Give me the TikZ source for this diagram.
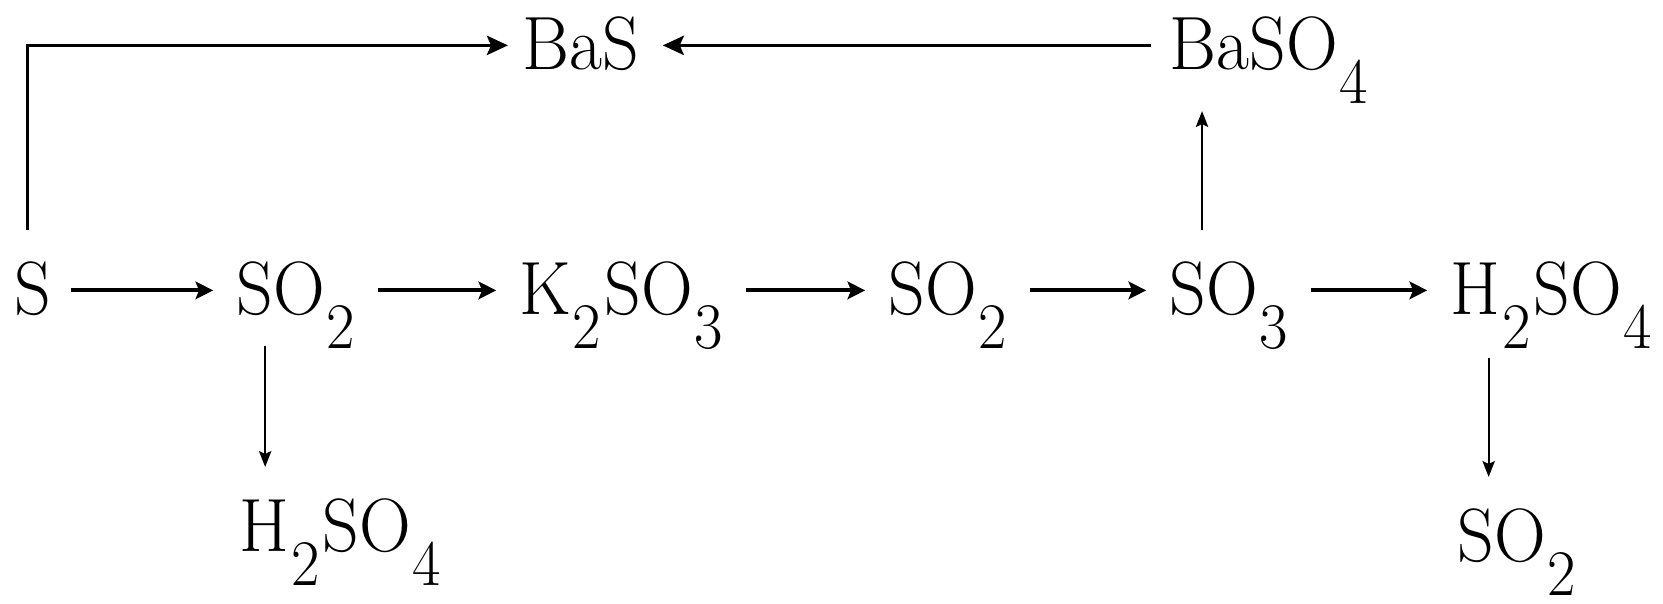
\documentclass[tikz,border=0pt]{standalone}
\usepackage{graphicx}
\usetikzlibrary{arrows.meta}

% formulas: large lowered indices
\newcommand{\chem}[1]{\scalebox{0.95}[1]{#1}}
\newcommand{\chsub}[1]{\kern0.5pt\raisebox{-0.45em}{\fontsize{18.5}{18.5}\selectfont #1}\kern1pt}

\begin{document}
\begin{tikzpicture}[
        x=0.1mm, y=-0.1mm,
        >={Stealth[length=5pt, width=5pt, inset=1pt]},
        chem/.style={inner sep=0pt, anchor=base west, text height=14pt, text depth=0pt,
            font=\fontsize{21.5}{24}\selectfont},
        flow/.style={->, line width=1.1pt, shorten <=5.5pt, shorten >=6.5pt},
        link/.style={-{Stealth[length=6pt, width=5.5pt, inset=1.2pt]}, line width=0.9pt},
        vflow/.style={-{Stealth[length=4.5pt, width=3.5pt, inset=0.8pt]}, line width=0.6pt},
        ]
        \useasboundingbox (0,0) rectangle (1663,604);

        % Main row
        \node (s)     at (14,315)   [chem] {\chem{S}};
        \node (so2)   at (236,315)  [chem] {\chem{SO\chsub{2}}};
        \node (k2so3) at (519,315)  [chem] {\chem{K\chsub{2}SO\chsub{3}}};
        \node (so2r)  at (888,315)  [chem] {\chem{SO\chsub{2}}};
        \node (so3)   at (1169,315) [chem] {\chem{SO\chsub{3}}};
        \node (h2so4) at (1450,315) [chem] {\chem{H\chsub{2}SO\chsub{4}}};

        % Top row
        \node (bas)   at (522,70)   [chem] {\chem{BaS}};
        \node (baso4) at (1169,70)  [chem] {\chem{BaSO\chsub{4}}};

        % Bottom row
        \node (h2so4lo) at (239,552)  [chem] {\chem{H\chsub{2}SO\chsub{4}}};
        \node (so2lo)   at (1457,562) [chem] {\chem{SO\chsub{2}}};

        % Horizontal arrows
        \draw[flow] (s.east) -- (so2.west);
        \draw[flow] (so2.east) -- (k2so3.west);
        \draw[flow] (k2so3.east) -- (so2r.west);
        \draw[flow] (so2r.east) -- (so3.west);
        \draw[flow] (so3.east) -- (h2so4.west);

        % Top connections
        \draw[link, shorten <=10pt, shorten >=4pt] ([xshift=-1.5pt]s.north) |- (bas.west);
        \draw[link, shorten <=5pt, shorten >=6.5pt] (baso4.west) -- (bas.east);

        % Vertical arrows
        \draw[vflow, shorten <=10pt, shorten >=11.5pt]
            ([xshift=9.4pt]so3.north west) coordinate (up1) -- (up1 |- baso4.south);
        \draw[vflow, shorten <=8.5pt, shorten >=10pt]
            ([xshift=8.3pt]so2.south west) coordinate (dn1) -- (dn1 |- h2so4lo.north);
        \draw[vflow, shorten <=12pt, shorten >=10pt]
            ([xshift=11pt]h2so4.south west) coordinate (dn2) -- (dn2 |- so2lo.north);

    \end{tikzpicture}
\end{document}
